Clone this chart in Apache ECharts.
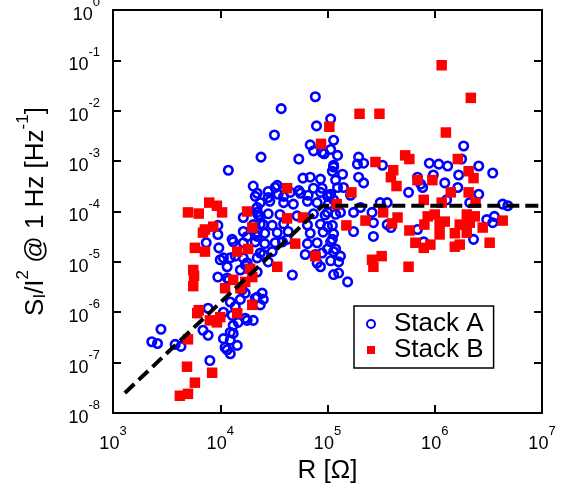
<!DOCTYPE html>
<html>
<head>
<meta charset="utf-8">
<title>Noise vs resistance</title>
<script src="https://cdn.jsdelivr.net/npm/echarts@6/dist/echarts.min.js"></script>
<style>
  html, body { margin: 0; padding: 0; background: #fff; }
  #chart { width: 570px; height: 489px; }
</style>
</head>
<body>
<div id="chart"></div>
<script>
// axis ranges
var xRange = [1e3, 1e7];
var yRange = [1e-8, 1];

// Stack A: [R (ohm), S_I/I^2 (1/Hz)]
var stackA = [
  [2.3e3, 2.6e-7], [2.6e3, 2.4e-7], [2.8e3, 4.6e-7], [3.8e3, 2.3e-7], [4.3e3, 2.1e-7],
  [8.0e3, 1.1e-7], [7.7e3, 1.2e-6], [6.9e3, 4.4e-7], [7.7e3, 3.5e-7],
  [9.5e3, 5.0e-6], [1.2e4, 4.4e-6], [1.24e4, 1.6e-6], [1.54e4, 1.8e-6], [1.71e4, 2.4e-6],
  [2.12e4, 1.9e-6], [1.07e4, 1.0e-6], [1.29e4, 8.7e-7], [1.71e4, 7.6e-7], [2.03e4, 6.9e-7],
  [1.32e4, 5.5e-7], [1.24e4, 4.0e-7], [1.07e4, 3.0e-7], [1.24e4, 2.8e-7], [1.44e4, 2.2e-7],
  [1.11e4, 2.0e-7], [1.24e4, 1.5e-7], [1.32e4, 3.8e-7], [1.16e4, 1.8e-7], [1.54e4, 6.9e-6],
  [1.16e4, 8.0e-6], [1.0e4, 1.1e-5], [1.24e4, 1.2e-5], [1.71e4, 8.7e-6], [2.21e4, 6.3e-6],
  [2.52e4, 1.4e-5], [2.46e4, 2.4e-6], [2.52e4, 1.8e-6], [2.36e4, 1.4e-6], [1.6e4, 2.8e-6],
  [1.47e4, 6.3e-7], [1.78e4, 6.9e-7], [2.21e4, 2.0e-6], [1.38e4, 1.3e-6],
  [9.5e3, 5.3e-5], [9.5e3, 3.5e-5], [9.7e3, 1.9e-5], [7.4e3, 2.4e-5], [1.32e4, 2.5e-5],
  [1.64e4, 4.0e-5], [1.64e4, 2.4e-5], [1.78e4, 3.2e-5], [2.21e4, 3.2e-5], [1.07e4, 1.2e-5],
  [1.38e4, 1.3e-5], [1.64e4, 1.2e-5], [1.78e4, 9.6e-6], [2.21e4, 1.2e-5], [1.64e4, 7.6e-5],
  [2.36e4, 8.0e-5], [2.03e4, 5.5e-5], [2.52e4, 5.5e-5], [1.19e4, 6.6e-4], [2.03e4, 3.2e-4],
  [2.12e4, 2.0e-4], [2.21e4, 1.2e-4], [2.21e4, 9.6e-5], [1.16e4, 4.8e-6], [2.12e4, 3.5e-5],
  [1.29e4, 2.8e-5],
  [2.21e4, 2.3e-4], [2.8e4, 2.5e-4], [3.47e4, 2.2e-4], [4.5e4, 2.4e-4], [5.6e4, 2.3e-4],
  [6.6e4, 2.1e-4], [8.6e4, 2.4e-4], [1.07e5, 2.2e-4],
  [2.36e4, 1.5e-4], [2.9e4, 1.6e-4], [3.9e4, 1.5e-4], [4.8e4, 1.4e-4], [6.5e4, 1.6e-4],
  [8.0e4, 1.5e-4], [1.02e5, 1.4e-4],
  [2.26e4, 8.5e-5], [2.8e4, 9.0e-5], [3.6e4, 8.7e-5], [5.2e4, 8.2e-5], [7.4e4, 9.0e-5],
  [9.5e4, 8.5e-5], [1.19e5, 8.8e-5],
  [2.36e4, 5.6e-5], [3.05e4, 5.3e-5], [3.9e4, 5.7e-5], [6.5e4, 5.4e-5], [8.6e4, 5.6e-5],
  [1.11e5, 5.3e-5],
  [2.21e4, 3.9e-5], [2.6e4, 3.7e-5], [3.4e4, 3.8e-5], [4.3e4, 4.0e-5], [6.9e4, 3.7e-5],
  [9.1e4, 3.9e-5], [1.14e5, 3.6e-5],
  [2.12e4, 2.5e-5], [2.6e4, 2.3e-5], [3.25e4, 2.4e-5], [3.8e4, 2.5e-5], [6.5e4, 2.3e-5],
  [8.0e4, 2.4e-5], [1.07e5, 2.5e-5],
  [2.36e4, 1.5e-5], [3.05e4, 1.6e-5], [6.2e4, 1.4e-5], [8.9e4, 1.5e-5], [1.14e5, 1.6e-5],
  [2.8e4, 1.0e-5], [8.0e4, 9.5e-6], [1.07e5, 1.05e-5], [1.27e5, 1.0e-5],
  [4.7e4, 5.5e-6], [1.14e5, 5.6e-6],
  [1.54e5, 4.0e-6], [1.32e5, 1.3e-5], [7.7e4, 1.4e-5], [8.6e4, 8.0e-6], [4.2e4, 2.8e-5],
  [7.7e4, 1.9e-2], [3.7e4, 1.1e-2], [3.2e4, 3.3e-3], [2.4e4, 1.2e-3], [5.4e4, 1.1e-3],
  [7.9e4, 5.0e-3], [1.07e5, 6.9e-3], [1.14e5, 2.6e-3], [6.9e4, 2.1e-3], [8.9e4, 1.5e-3],
  [1.07e5, 1.7e-3], [1.24e5, 1.3e-3], [5.9e4, 4.6e-4], [6.9e4, 4.8e-4], [8.6e4, 4.4e-4],
  [1.11e5, 6.3e-4], [1.19e5, 4.2e-4], [3.25e4, 3.0e-4], [5.4e4, 2.6e-4], [7.4e4, 2.9e-4],
  [8.9e4, 2.9e-4], [1.02e5, 2.1e-4], [1.24e5, 3.0e-4], [2.8e4, 1.9e-4], [3.9e4, 2.0e-4],
  [3.4e4, 3.3e-4], [1.14e5, 8.3e-4], [9.3e4, 1.4e-3], [7.4e4, 1.6e-3],
  [1.38e5, 5.5e-4], [1.41e5, 3.0e-4], [1.64e5, 2.1e-4], [1.95e5, 1.2e-3], [2.17e5, 9.1e-4],
  [1.9e5, 8.7e-4], [1.95e5, 4.8e-4], [2.17e5, 3.7e-4], [3.25e5, 8.3e-4], [5.7e5, 2.4e-4],
  [6.9e5, 4.8e-4], [7.4e5, 3.5e-4], [8.9e5, 9.1e-4], [1.09e6, 8.7e-4], [1.32e6, 8.0e-4],
  [1.86e6, 2.0e-3], [1.78e6, 1.1e-3], [1.67e6, 5.3e-4], [1.64e6, 3.0e-4], [1.24e6, 3.7e-4],
  [9.7e5, 5.3e-4], [2.57e6, 8.0e-4], [3.47e6, 5.8e-4], [2.57e6, 2.2e-4], [1.29e6, 1.7e-4],
  [2.12e6, 1.5e-4], [4.3e6, 1.4e-4], [4.8e6, 1.3e-4], [3.6e5, 1.5e-4], [3.1e5, 1.5e-4],
  [2.03e5, 1.2e-4], [1.75e5, 9.6e-5], [2.68e5, 6.0e-5], [3.6e5, 5.5e-5], [3.9e5, 4.8e-5],
  [1.75e5, 4.0e-5], [2.68e5, 3.2e-5], [6.9e5, 4.4e-5], [7.9e5, 2.5e-5], [2.3e6, 2.8e-5],
  [3.05e6, 6.9e-5], [3.6e6, 8.0e-5], [3.47e6, 6.0e-5], [1.32e5, 9.6e-5], [1.0e5, 9.6e-5],
  [1.0e5, 5.0e-5], [1.11e5, 2.8e-5], [1.0e5, 1.8e-5], [1.19e5, 1.8e-5], [7.7e5, 3.0e-4],
  [2.6e5, 9.6e-5], [1.27e5, 6.0e-6], [1.14e5, 7.6e-4], [1.14e5, 1.7e-4], [1.0e5, 2.0e-4]
];

// Stack B
var stackB = [
  [5.0e3, 2.4e-8], [4.2e3, 2.2e-8], [5.8e3, 4.0e-8], [4.9e3, 8.3e-8], [8.4e3, 6.3e-8],
  [5.0e3, 2.9e-7], [6.1e3, 9.6e-7], [6.3e3, 1.1e-6], [8.0e3, 6.9e-7], [9.3e3, 6.3e-7],
  [1.0e4, 8.0e-7], [1.44e4, 9.6e-7], [1.99e4, 1.4e-6], [1.11e4, 3.0e-6], [1.54e4, 3.0e-6],
  [1.32e4, 4.4e-6], [1.71e4, 4.0e-6], [1.99e4, 5.0e-6], [5.6e3, 6.9e-6], [5.7e3, 5.3e-6],
  [5.6e3, 3.3e-6], [3.4e4, 8.0e-6], [7.7e4, 1.3e-5], [1.44e4, 1.6e-5], [1.82e4, 1.8e-5],
  [7.2e3, 1.6e-5], [5.8e3, 1.9e-5], [6.9e3, 3.8e-5], [8.6e3, 5.0e-5], [7.2e3, 4.4e-5],
  [5.0e3, 9.6e-5], [6.3e3, 9.1e-5], [7.9e3, 1.5e-4], [9.3e3, 1.3e-4], [1.04e4, 9.6e-5],
  [1.78e4, 1.0e-4], [1.99e4, 4.8e-5], [4.2e4, 7.3e-5], [5.9e4, 7.6e-5], [5.0e4, 2.3e-5],
  [4.2e4, 2.9e-4], [1.04e5, 4.8e-3], [8.7e4, 2.2e-3], [1.22e5, 1.4e-4], [1.9e4, 7.3e-6],
  [1.16e6, 8.0e-2], [2.17e6, 1.8e-2], [1.99e5, 8.7e-3], [3.05e5, 8.7e-3], [1.27e6, 3.7e-3],
  [2.8e5, 9.6e-4], [5.3e5, 1.3e-3], [5.8e5, 1.1e-3], [1.64e6, 1.1e-3], [4.1e5, 6.6e-4],
  [3.9e5, 4.8e-4], [4.4e5, 3.2e-4], [6.9e5, 4.2e-4], [9.5e5, 4.2e-4], [2.07e6, 6.3e-4],
  [2.3e6, 4.6e-4], [2.07e6, 2.4e-4], [1.41e6, 2.4e-4], [1.67e5, 2.4e-4], [7.9e5, 1.7e-4],
  [1.16e6, 1.5e-4], [2.4e6, 1.5e-4], [3.3e5, 9.6e-5], [4.5e5, 7.6e-5], [4.0e5, 5.8e-5],
  [8.6e5, 8.0e-5], [1.0e6, 8.7e-5], [1.24e6, 6.3e-5], [1.99e6, 8.7e-5], [2.36e6, 8.0e-5],
  [8.0e5, 5.5e-5], [1.11e6, 5.5e-5], [1.71e6, 5.5e-5], [2.12e6, 6.0e-5], [2.8e6, 4.8e-5],
  [4.3e6, 6.6e-5], [2.26e5, 6.6e-5], [1.5e5, 5.3e-5], [5.8e5, 4.2e-5], [1.11e6, 3.5e-5],
  [1.54e6, 3.7e-5], [1.99e6, 3.8e-5], [6.6e5, 2.4e-5], [7.9e5, 1.9e-5], [9.1e5, 2.2e-5],
  [1.54e6, 2.0e-5], [1.71e6, 2.2e-5], [3.25e6, 2.4e-5], [2.6e5, 1.1e-5], [3.2e5, 1.3e-5],
  [2.68e5, 8.0e-6], [5.7e5, 8.0e-6]
];

// dashed guide: R^2 rise then flat
var fitLine = [[1.29e3, 2.5e-8], [9.0e4, 1.3e-4], [1.0e7, 1.3e-4]];

var seriesNames = ['Stack A', 'Stack B'];

var FONT = '"Liberation Sans", Arial, Helvetica, sans-serif';

var chart = echarts.init(document.getElementById('chart'));

// 10^n tick labels
function powLabel(v) {
    var e = Math.round(Math.log10(v));
    return '{b|10}{s|' + e + '}';
}

var tickRich = {
    b: { fontSize: 18, lineHeight: 28, verticalAlign: 'bottom', fontFamily: FONT, color: '#000' },
    s: { fontSize: 13, lineHeight: 14, verticalAlign: 'top', fontFamily: FONT, color: '#000' }
};

function baseAxis(extra) {
    var ax = {
        type: 'log',
        logBase: 10,
        axisLine: { show: true, onZero: false, lineStyle: { color: '#000', width: 2 } },
        axisTick: { show: true, inside: true, length: 8, lineStyle: { color: '#000', width: 2 } },
        splitLine: { show: false },
        minorTick: { show: false }
    };
    for (var k in extra) ax[k] = extra[k];
    return ax;
}

chart.setOption({
    animation: false,
    backgroundColor: '#fff',
    grid: { left: 113, right: 28, top: 10, bottom: 76, containLabel: false, outerBoundsMode: 'none' },
    legend: {
        orient: 'vertical',
        left: 354,
        top: 306,
        padding: [5, 10, 5, 12],
        itemGap: 0,
        itemWidth: 8,
        itemHeight: 8,
        borderColor: '#000',
        borderWidth: 1.5,
        backgroundColor: '#fff',
        data: seriesNames,
        textStyle: { fontSize: 26, lineHeight: 25, padding: [0, 0, 0, 14], fontFamily: FONT, color: '#000' }
    },
    xAxis: [
        baseAxis({
            position: 'bottom',
            min: xRange[0], max: xRange[1],
            name: 'R [Ω]',
            nameLocation: 'middle',
            nameGap: 40,
            nameTextStyle: { fontSize: 26, fontFamily: FONT, color: '#000' },
            axisLabel: { show: true, margin: 12, formatter: powLabel, rich: tickRich }
        }),
        baseAxis({
            position: 'top',
            min: xRange[0], max: xRange[1],
            axisLabel: { show: false }
        })
    ],
    yAxis: [
        baseAxis({
            position: 'left',
            min: yRange[0], max: yRange[1],
            name: '{m|S}{sub|I}{m|/I}{sup|2}{m| @ 1 Hz [Hz}{sup|-1}{m|]}',
            nameLocation: 'middle',
            nameGap: 64,
            nameTextStyle: {
                fontSize: 26, fontFamily: FONT, color: '#000',
                rich: {
                    m: { fontSize: 26, lineHeight: 34, verticalAlign: 'bottom', fontFamily: FONT, color: '#000' },
                    sub: { fontSize: 17, lineHeight: 17, verticalAlign: 'bottom', fontFamily: FONT, color: '#000' },
                    sup: { fontSize: 17, lineHeight: 17, verticalAlign: 'top', fontFamily: FONT, color: '#000' }
                }
            },
            axisLabel: { show: true, margin: 13, formatter: powLabel, rich: tickRich }
        }),
        baseAxis({
            position: 'right',
            min: yRange[0], max: yRange[1],
            axisLabel: { show: false }
        })
    ],
    series: [
        {
            name: seriesNames[0],
            type: 'scatter',
            xAxisIndex: 0, yAxisIndex: 0,
            symbol: 'circle',
            symbolSize: 8.5,
            itemStyle: { color: 'rgba(0,0,0,0)', borderColor: '#0000ff', borderWidth: 2.6, opacity: 1 },
            data: stackA
        },
        {
            name: seriesNames[1],
            type: 'scatter',
            xAxisIndex: 0, yAxisIndex: 0,
            symbol: 'rect',
            symbolSize: 10.5,
            itemStyle: { color: '#ff0000', opacity: 1 },
            data: stackB
        },
        {
            name: 'fit',
            type: 'line',
            xAxisIndex: 0, yAxisIndex: 0,
            symbol: 'none',
            lineStyle: { color: '#000', width: 4, type: [13, 6] },
            data: fitLine
        }
    ]
});
</script>
</body>
</html>
